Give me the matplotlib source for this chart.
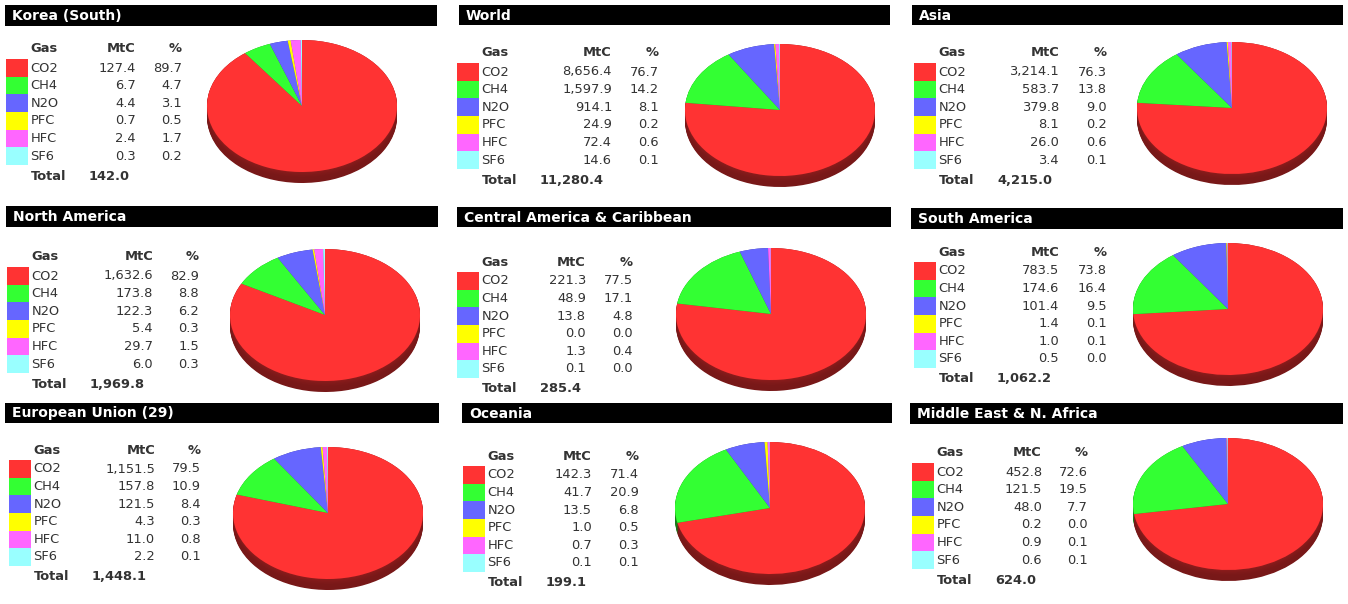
import matplotlib
matplotlib.use('Agg')
import matplotlib.pyplot as plt
from matplotlib.patches import Rectangle
import numpy as np

# data
gases = ["CO2", "CH4", "N2O", "PFC", "HFC", "SF6"]
gas_colors = ["#ff3333", "#33ff33", "#6666ff", "#ffff00", "#ff66ff", "#99ffff"]

regions = ["Korea (South)", "World", "Asia",
           "North America", "Central America & Caribbean", "South America",
           "European Union (29)", "Oceania", "Middle East & N. Africa"]

korea_mtc = [127.4, 6.7, 4.4, 0.7, 2.4, 0.3]
korea_pct = [89.7, 4.7, 3.1, 0.5, 1.7, 0.2]
world_mtc = [8656.4, 1597.9, 914.1, 24.9, 72.4, 14.6]
world_pct = [76.7, 14.2, 8.1, 0.2, 0.6, 0.1]
asia_mtc = [3214.1, 583.7, 379.8, 8.1, 26.0, 3.4]
asia_pct = [76.3, 13.8, 9.0, 0.2, 0.6, 0.1]
namerica_mtc = [1632.6, 173.8, 122.3, 5.4, 29.7, 6.0]
namerica_pct = [82.9, 8.8, 6.2, 0.3, 1.5, 0.3]
camerica_mtc = [221.3, 48.9, 13.8, 0.0, 1.3, 0.1]
camerica_pct = [77.5, 17.1, 4.8, 0.0, 0.4, 0.0]
samerica_mtc = [783.5, 174.6, 101.4, 1.4, 1.0, 0.5]
samerica_pct = [73.8, 16.4, 9.5, 0.1, 0.1, 0.0]
eu_mtc = [1151.5, 157.8, 121.5, 4.3, 11.0, 2.2]
eu_pct = [79.5, 10.9, 8.4, 0.3, 0.8, 0.1]
oceania_mtc = [142.3, 41.7, 13.5, 1.0, 0.7, 0.1]
oceania_pct = [71.4, 20.9, 6.8, 0.5, 0.3, 0.1]
mena_mtc = [452.8, 121.5, 48.0, 0.2, 0.9, 0.6]
mena_pct = [72.6, 19.5, 7.7, 0.0, 0.1, 0.1]

totals = [142.0, 11280.4, 4215.0, 1969.8, 285.4, 1062.2, 1448.1, 199.1, 624.0]

all_mtc = [korea_mtc, world_mtc, asia_mtc, namerica_mtc, camerica_mtc,
           samerica_mtc, eu_mtc, oceania_mtc, mena_mtc]
all_pct = [korea_pct, world_pct, asia_pct, namerica_pct, camerica_pct,
           samerica_pct, eu_pct, oceania_pct, mena_pct]

# layout in pixels (image coords, y down)
W, H = 1348, 604
title_boxes = [(5, 437, 5, 26), (459, 890, 5, 25), (912, 1343, 5, 25),
               (6, 438, 206, 227), (457, 891, 207, 227), (911, 1343, 208, 229),
               (5, 439, 403, 423), (462, 892, 403, 423), (910, 1343, 403, 424)]
swatch_x = [6, 457, 914, 7, 457, 914, 9, 463, 912]
header_y = [49, 53, 53, 257, 262, 252, 450, 456, 453]
mtc_right = [136, 612, 1059, 153, 586, 1059, 155, 592, 1042]
pct_right = [182, 659, 1107, 199, 633, 1107, 201, 639, 1088]
pie_centers = [(302, 106), (780, 110), (1232, 108),
               (325, 315), (771, 314), (1228, 309),
               (328, 513), (770, 508), (1228, 504)]
rx, ry, depth = 95, 66, 11
row_h = 17.6
text_color = "#333333"
fs = 9.4


def darker(c, f):
  rgb = np.array(matplotlib.colors.to_rgb(c))
  return tuple(rgb * f)


fig = plt.figure(figsize=(W / 100, H / 100), dpi=100)
ax = fig.add_axes([0, 0, 1, 1])
ax.set_xlim(0, W)
ax.set_ylim(H, 0)
ax.axis("off")

for i, name in enumerate(regions):
  l, r, t, b = title_boxes[i]
  ax.add_patch(Rectangle((l, t), r - l, b - t, color="black", lw=0))
  ax.text(l + 7, (t + b) / 2 + 0.5, name, color="white", fontsize=10,
          fontweight="bold", ha="left", va="center")

  sx = swatch_x[i]
  hy = header_y[i]
  gx = sx + 24.5
  ax.text(gx, hy, "Gas", fontsize=fs, fontweight="bold", color=text_color, va="center")
  ax.text(mtc_right[i], hy, "MtC", fontsize=fs, fontweight="bold", color=text_color,
          va="center", ha="right")
  ax.text(pct_right[i], hy, "%", fontsize=fs, fontweight="bold", color=text_color,
          va="center", ha="right")
  for j, gas in enumerate(gases):
    ry_c = hy + 19 + j * row_h
    ax.add_patch(Rectangle((sx, ry_c - row_h / 2), 22, row_h, color=gas_colors[j], lw=0))
    ax.text(gx, ry_c, gas, fontsize=fs, color=text_color, va="center")
    ax.text(mtc_right[i], ry_c, f"{all_mtc[i][j]:,.1f}", fontsize=fs, color=text_color,
            va="center", ha="right")
    ax.text(pct_right[i], ry_c, f"{all_pct[i][j]:.1f}", fontsize=fs, color=text_color,
            va="center", ha="right")
  ty = hy + 19 + 5 * row_h + 20
  ax.text(gx, ty, "Total", fontsize=fs, fontweight="bold", color=text_color, va="center")
  ax.text(sx + 83, ty, f"{totals[i]:,.1f}", fontsize=fs, fontweight="bold",
          color=text_color, va="center")

  # pseudo 3d pie: stacked darker layers for the side, then the top
  cx, cy = pie_centers[i]
  pax = fig.add_axes([(cx - rx) / W, 1 - (cy + ry + depth + 1) / H,
                      2 * rx / W, (2 * ry + depth + 2) / H])
  d = depth / ry
  n_layers = 14
  for k, off in enumerate(np.linspace(d, 0.0, n_layers)):
    f = 0.47 + 0.1 * (k / (n_layers - 1)) ** 3
    pax.pie(all_mtc[i], colors=[darker(c, f) for c in gas_colors], startangle=90,
            counterclock=False, center=(0, -off), radius=1,
            wedgeprops=dict(linewidth=0))
  pax.pie(all_mtc[i], colors=gas_colors, startangle=90, counterclock=False,
          center=(0, 0), radius=1, wedgeprops=dict(linewidth=0))
  pax.set_aspect("auto")
  pax.set_xlim(-1.0, 1.0)
  pax.set_ylim(-1 - d - 1 / ry, 1 + 1 / ry)
  pax.axis("off")

fig.savefig("out.png", dpi=100)
